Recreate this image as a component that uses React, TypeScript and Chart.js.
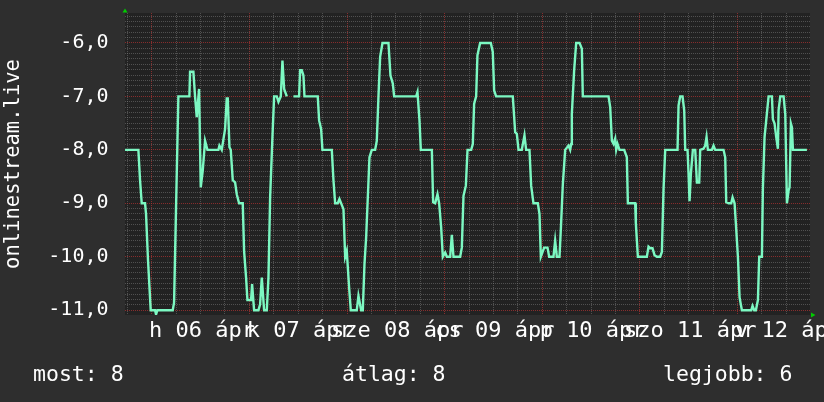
import React, { useEffect, useRef } from 'react';
import { Chart, registerables } from 'chart.js';

Chart.register(...registerables);

// Hours since 6 Apr 00:00 and measured values
const hours: number[] = [
  -6.56, -3.28, -2.87, -2.46, -1.64, -1.4, -0.91, -0.25, 0.82, 1.06, 1.39, 5.16, 5.49, 5.98, 6.55,
  9.26, 9.42, 10.24, 10.65, 11.06, 11.64, 12.05, 12.54, 13.11, 13.69, 16.39, 16.64, 17.21, 18.03,
  18.44, 18.69, 19.1, 19.42, 19.92, 20.49, 20.9, 21.47, 22.37, 22.7, 23.19, 23.52, 24.42, 24.67,
  25.16, 26.23, 26.64, 27.05, 27.62, 28.28, 28.69, 29.1, 29.67, 30.08, 30.74, 31.15, 31.72, 32.13,
  32.54, 33.2, 34.0, 34.83, 36.22, 36.47, 36.88, 37.29, 37.54, 40.81, 41.14, 41.63, 41.96, 44.26,
  44.67, 45.08, 45.73, 46.14, 47.13, 47.54, 47.94, 48.52, 48.93, 50.4, 50.81, 51.47, 51.88, 52.29,
  52.7, 53.52, 54.09, 54.91, 55.32, 55.73, 56.14, 56.72, 58.19, 58.68, 59.26, 59.58, 65.0, 65.32,
  65.81, 66.14, 68.85, 69.17, 69.67, 70.24, 70.65, 71.14, 71.55, 72.13, 72.54, 73.36, 73.76, 74.17,
  75.81, 76.22, 76.63, 77.21, 77.62, 78.52, 78.92, 79.24, 79.74, 80.06, 80.72, 83.34, 83.83, 84.16,
  84.65, 88.75, 89.33, 89.74, 90.15, 90.96, 91.62, 92.03, 92.85, 93.26, 93.83, 94.9, 95.31, 95.64,
  96.46, 97.28, 97.69, 98.75, 99.16, 99.57, 100.23, 100.56, 101.05, 101.62, 102.44, 102.85, 103.1,
  103.26, 103.83, 104.33, 105.15, 105.72, 105.96, 112.28, 112.69, 113.1, 113.51, 113.92, 114.16,
  114.49, 114.98, 116.13, 116.78, 117.03, 118.83, 118.99, 119.49, 121.7, 122.11, 122.52, 123.09,
  123.59, 124.16, 124.98, 125.39, 125.8, 126.21, 129.24, 129.49, 129.9, 130.47, 130.88, 131.13,
  131.7, 131.95, 132.19, 132.52, 133.01, 133.59, 134.0, 134.57, 134.81, 135.63, 136.04, 136.37,
  136.7, 137.68, 138.09, 138.5, 140.55, 140.96, 141.21, 141.78, 142.44, 142.77, 143.26, 143.59,
  144.08, 144.49, 145.06, 147.36, 147.68, 148.09, 148.5, 149.0, 149.32, 149.98, 150.22, 150.63,
  150.96, 151.62, 152.44, 152.68, 153.09, 153.5, 153.91, 154.08, 154.49, 155.31, 155.72, 156.13,
  156.54, 156.78, 157.11, 157.36, 157.6, 161.04,
];

const values: (number | null)[] = [
  -8, -8, -8.57, -9.0, -9.0, -9.2, -10.07, -11, -11, -11.08, -11, -11, -10.86, -9.07, -7,
  -7, -6.54, -6.54, -7, -7.39, -6.86, -8.7, -8.39, -7.83, -8, -8, -7.92, -8, -7.61,
  -7.04, -7.04, -7.95, -8, -8.57, -8.61, -8.83, -9.0, -9.0, -9.89, -10.39, -10.81, -10.81, -10.51,
  -11, -11, -10.89, -10.39, -11, -11, -10.39, -8.89, -7.76, -7, -7, -7.1, -7, -6.33,
  -6.86, -7, null, -7, -7, -6.51, -6.51, -6.61, -7, -7, -7.45, -7.61, -8, -8,
  -8.57, -9.0, -9.0, -8.92, -9.11, -10, -9.89, -10.58, -11, -11, -10.73, -11, -11, -10.14,
  -9.64, -8.14, -8, -8, -7.83, -7, -6.26, -6, -6, -6.61, -6.76, -7, -7, -6.92,
  -7.45, -8, -8, -8.98, -9.0, -8.83, -9.0, -9.45, -10, -9.92, -10, -10, -9.59, -10,
  -10, -9.83, -8.86, -8.67, -8, -8, -7.89, -7.14, -7.0, -6.23, -6.0, -6.0, -6.17, -6.89,
  -7.0, -7, -7.67, -7.7, -8, -8, -7.73, -8, -8, -8.67, -9.0, -9.0, -9.2, -10,
  -9.83, -9.83, -10, -10, -9.7, -10, -10, -9.48, -8.64, -8, -7.92, -8, -7.89,
  -7.33, -6.51, -6.0, -6.0, -6.11, -7.0, -7, -7.2, -7.83, -7.89, -7.79, -8,
  -7.89, -8, -8, -8.14, -9.0, -9.0, -9.37, -10, -10, -9.81, -9.84, -9.84,
  -9.97, -10, -10, -9.91, -8.73, -8, -8, -7.17, -7.0, -7.0, -7.26, -8,
  -8, -8.45, -8.96, -8.45, -8, -8, -8.61, -8.61, -8, -7.98, -7.92, -7.76,
  -8, -8, -7.92, -8, -8, -8.14, -8.98, -9.0, -9.0, -8.89, -9.0, -9.39,
  -10, -10.76, -11, -11, -10.92, -11, -11, -10.81, -10, -10, -8.73, -7.76,
  -7.51, -7.0, -7.0, -7.43, -7.51, -7.76, -7.98, -7.26, -7.0, -7.0, -7.33, -9.0,
  -8.76, -8.7, -7.51, -7.58, -8, -8,
];

const dayLabels: string[] = ['h 06 ápr', 'k 07 ápr', 'sze 08 ápr', 'cs 09 ápr', 'p 10 ápr', 'szo 11 ápr', 'v 12 ápr'];
const dayLabelHours: number[] = [12, 36, 60, 84, 108, 132, 156];
const yTitle = 'onlinestream.live';
const legendTexts: string[] = ['most: 8', 'átlag: 8', 'legjobb: 6'];

const X_MIN = -6.57;
const X_MAX = 161.8;
const Y_MIN = -11.09;
const Y_MAX = -5.44;

const FONT = 'DejaVu Sans Mono';

export default function App() {
  const ref = useRef<HTMLCanvasElement>(null);

  useEffect(() => {
    document.body.style.margin = '0';
    document.body.style.background = '#2e2e2e';
    const canvas = ref.current;
    if (!canvas) return;

    const xTicks: number[] = [];
    for (let h = -6; h <= 156; h += 6) xTicks.push(h);
    const yTicks: number[] = [];
    for (let i = -110; i <= -55; i++) yTicks.push(i / 10);

    const bgPlugin = {
      id: 'rrdBg',
      beforeDraw(chart: any) {
        const { ctx, chartArea: a } = chart;
        ctx.save();
        ctx.fillStyle = '#2e2e2e';
        ctx.fillRect(0, 0, chart.width, chart.height);
        ctx.fillStyle = '#222222';
        ctx.fillRect(a.left, a.top, a.right - a.left, a.bottom - a.top);
        ctx.restore();
      },
      afterDraw(chart: any) {
        const { ctx, chartArea: a } = chart;
        ctx.save();
        // axis arrows
        ctx.fillStyle = '#00cc00';
        ctx.beginPath();
        ctx.moveTo(a.left - 2.5, a.top - 0.5);
        ctx.lineTo(a.left + 2.5, a.top - 0.5);
        ctx.lineTo(a.left, a.top - 4.5);
        ctx.closePath();
        ctx.fill();
        ctx.beginPath();
        ctx.moveTo(a.right + 1, a.bottom - 2.5);
        ctx.lineTo(a.right + 1, a.bottom + 2.5);
        ctx.lineTo(a.right + 5.5, a.bottom);
        ctx.closePath();
        ctx.fill();
        // legend
        ctx.fillStyle = '#ffffff';
        ctx.font = `21.5px "${FONT}"`;
        ctx.textBaseline = 'alphabetic';
        ctx.textAlign = 'left';
        const xs = [33, 342, 663];
        legendTexts.forEach((t, i) => ctx.fillText(t, xs[i], 380.5));
        ctx.restore();
      },
    };

    const gridColor = (ctx: any, step: number) => {
      const v = ctx.tick ? ctx.tick.value : 0;
      const major = Math.abs(v / step - Math.round(v / step)) < 1e-6;
      return major ? 'rgba(175,50,50,0.72)' : 'rgba(125,125,125,0.5)';
    };

    const chart = new Chart(canvas, {
      type: 'line',
      data: {
        datasets: [
          {
            data: hours.map((h, i) => ({ x: h, y: values[i] })) as any,
            borderColor: '#7cf8c2',
            borderWidth: 2.4,
            pointRadius: 0,
            tension: 0,
            spanGaps: false,
            fill: false,
          },
        ],
      },
      options: {
        responsive: false,
        animation: false,
        layout: { padding: { left: 0, right: 14, top: 13, bottom: 0 } },
        plugins: { legend: { display: false }, tooltip: { enabled: false } },
        scales: {
          x: {
            type: 'linear',
            min: X_MIN,
            max: X_MAX,
            afterBuildTicks: (s: any) => {
              s.ticks = xTicks.map((v) => ({ value: v }));
            },
            afterFit: (s: any) => {
              s.height = 87;
              s.paddingLeft = 0;
              s.paddingRight = 0;
            },
            ticks: {
              autoSkip: false,
              maxRotation: 0,
              minRotation: 0,
              padding: 3,
              labelOffset: 1.5,
              color: '#ffffff',
              font: { family: FONT, size: 22 },
              callback: (v: any) => {
                const idx = dayLabelHours.indexOf(Number(v));
                return idx >= 0 ? dayLabels[idx] : '';
              },
            },
            grid: {
              drawTicks: false,
              lineWidth: 1,
              color: (ctx: any) => gridColor(ctx, 24),
            },
            border: { display: false, dash: [1, 1] },
          },
          y: {
            type: 'linear',
            min: Y_MIN,
            max: Y_MAX,
            afterBuildTicks: (s: any) => {
              s.ticks = yTicks.map((v) => ({ value: v }));
            },
            afterFit: (s: any) => {
              s.width = 125;
              s.paddingTop = 0;
              s.paddingBottom = 0;
            },
            ticks: {
              autoSkip: false,
              padding: 16.5,
              color: '#ffffff',
              font: { family: FONT, size: 20 },
              callback: (v: any) => {
                const n = Number(v);
                if (Math.abs(n - Math.round(n)) > 1e-6) return '';
                return n.toFixed(1).replace('.', ',');
              },
            },
            grid: {
              drawTicks: false,
              lineWidth: 1,
              color: (ctx: any) => gridColor(ctx, 1),
            },
            border: { display: false, dash: [1, 1] },
            title: {
              display: true,
              text: yTitle,
              color: '#ffffff',
              font: { family: FONT, size: 20.5 },
              padding: { top: 1.7, bottom: 0 },
            },
          },
        },
      },
      plugins: [bgPlugin],
    });

    return () => chart.destroy();
  }, []);

  return (
    <canvas
      ref={ref}
      width={824}
      height={402}
      style={{ display: 'block', width: 824, height: 402 }}
    />
  );
}
